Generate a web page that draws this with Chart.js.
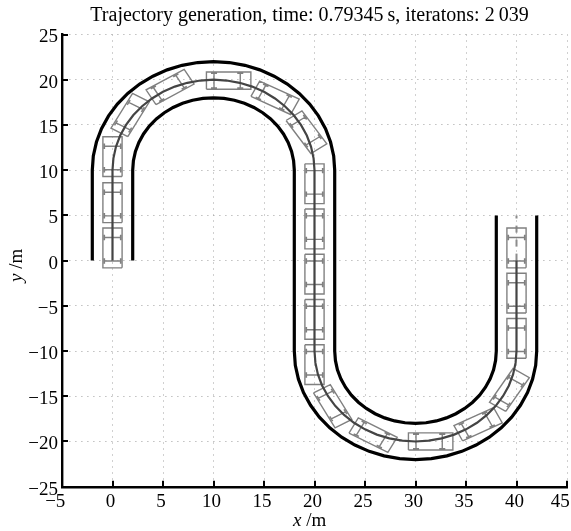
<!DOCTYPE html>
<html>
<head>
<meta charset="utf-8">
<title>Trajectory generation</title>
<script src="https://cdn.jsdelivr.net/npm/chart.js@4"></script>
<style>
  html, body { margin: 0; padding: 0; background: #fff; }
  canvas { display: block; }
</style>
</head>
<body>
<canvas id="chartTrayectoria" width="571" height="531"></canvas>
<script>
const xTicks = [-5, 0, 5, 10, 15, 20, 25, 30, 35, 40, 45];
const yTicks = [-25, -20, -15, -10, -5, 0, 5, 10, 15, 20, 25];

// road edge running outside on the first bend, inside on the second
const edgeA = [
  [-2, 0], [-2, 10], [-1.9, 11.57], [-1.59, 13.11], [-1.09, 14.59], [-0.39, 16], [0.48, 17.31], [1.51, 18.49],
  [2.69, 19.52], [4, 20.39], [5.41, 21.09], [6.89, 21.59], [8.43, 21.9], [10, 22], [11.57, 21.9], [13.11, 21.59],
  [14.59, 21.09], [16, 20.39], [17.31, 19.52], [18.49, 18.49], [19.52, 17.31], [20.39, 16], [21.09, 14.59],
  [21.59, 13.11], [21.9, 11.57], [22, 10], [22, -10], [22.07, -11.04], [22.27, -12.07], [22.61, -13.06], [23.07, -14],
  [23.65, -14.87], [24.34, -15.66], [25.13, -16.35], [26, -16.93], [26.94, -17.39], [27.93, -17.73], [28.96, -17.93],
  [30, -18], [31.04, -17.93], [32.07, -17.73], [33.06, -17.39], [34, -16.93], [34.87, -16.35], [35.66, -15.66],
  [36.35, -14.87], [36.93, -14], [37.39, -13.06], [37.73, -12.07], [37.93, -11.04], [38, -10], [38, 5],
];
const edgeB = [
  [2, 0], [2, 10], [2.07, 11.04], [2.27, 12.07], [2.61, 13.06], [3.07, 14], [3.65, 14.87], [4.34, 15.66], [5.13, 16.35],
  [6, 16.93], [6.94, 17.39], [7.93, 17.73], [8.96, 17.93], [10, 18], [11.04, 17.93], [12.07, 17.73], [13.06, 17.39],
  [14, 16.93], [14.87, 16.35], [15.66, 15.66], [16.35, 14.87], [16.93, 14], [17.39, 13.06], [17.73, 12.07],
  [17.93, 11.04], [18, 10], [18, -10], [18.1, -11.57], [18.41, -13.11], [18.91, -14.59], [19.61, -16], [20.48, -17.31],
  [21.51, -18.49], [22.69, -19.52], [24, -20.39], [25.41, -21.09], [26.89, -21.59], [28.43, -21.9], [30, -22],
  [31.57, -21.9], [33.11, -21.59], [34.59, -21.09], [36, -20.39], [37.31, -19.52], [38.49, -18.49], [39.52, -17.31],
  [40.39, -16], [41.09, -14.59], [41.59, -13.11], [41.9, -11.57], [42, -10], [42, 5],
];
const trajectory = [
  [0, 0], [0, 10], [0.09, 11.31], [0.34, 12.59], [0.76, 13.83], [1.34, 15], [2.07, 16.09], [2.93, 17.07], [3.91, 17.93],
  [5, 18.66], [6.17, 19.24], [7.41, 19.66], [8.69, 19.91], [10, 20], [11.31, 19.91], [12.59, 19.66], [13.83, 19.24],
  [15, 18.66], [16.09, 17.93], [17.07, 17.07], [17.93, 16.09], [18.66, 15], [19.24, 13.83], [19.66, 12.59],
  [19.91, 11.31], [20, 10], [20, -10], [20.09, -11.31], [20.34, -12.59], [20.76, -13.83], [21.34, -15], [22.07, -16.09],
  [22.93, -17.07], [23.91, -17.93], [25, -18.66], [26.17, -19.24], [27.41, -19.66], [28.69, -19.91], [30, -20],
  [31.31, -19.91], [32.59, -19.66], [33.83, -19.24], [35, -18.66], [36.09, -17.93], [37.07, -17.07], [37.93, -16.09],
  [38.66, -15], [39.24, -13.83], [39.66, -12.59], [39.91, -11.31], [40, -10], [40, 0],
];
// rest of the reference path, still ahead of the last vehicle
const referenceTail = [[40, 0], [40, 5]];

// vehicle poses: centre x, centre y, heading in degrees
const carX = [0, 0, 0, 1.75, 5.7, 11.5, 16.1, 19.2, 20, 20, 20, 20, 20, 21.8, 25.8, 31.5, 36.2, 39.3, 40, 40, 40];
const carY = [1.4, 6.4, 11.5, 16.1, 19.2, 19.9, 18, 14.2, 8.5, 3.5, -1.5, -6.5, -11.5, -16.1, -19.3, -20, -18.1, -14.3, -8.6, -3.6, 1.4];
const carHeading = [90, 90, 90, 61, 31, 0, -27, -56, -90, -90, -90, -90, -90, -61, -29, 0, 27, 58, 90, 90, 90];

function toPoints(list) {
  return list.map(([x, y]) => ({ x, y }));
}

// outline, two axles and four wheels of every vehicle, gaps split the pieces
function carOutlines() {
  const halfLen = 2.2, halfWid = 0.95, front = 1.15, rear = -1.45, axle = 0.8, wheel = 0.3;
  const out = [];
  carX.forEach((cx, i) => {
    const a = carHeading[i] * Math.PI / 180;
    const c = Math.cos(a), s = Math.sin(a);
    const at = (l, w) => ({ x: cx + l * c - w * s, y: carY[i] + l * s + w * c });
    const gap = { x: cx, y: null };
    out.push(at(-halfLen, -halfWid), at(halfLen, -halfWid), at(halfLen, halfWid), at(-halfLen, halfWid), at(-halfLen, -halfWid), gap);
    [front, rear].forEach((l) => {
      out.push(at(l, -axle), at(l, axle), gap);
      out.push(at(l - wheel, -axle), at(l + wheel, -axle), gap);
      out.push(at(l - wheel, axle), at(l + wheel, axle), gap);
    });
  });
  return out;
}

const SERIF = '"Liberation Serif", "Times New Roman", serif';

const marcasInternas = {
  id: 'marcasInternas',
  afterDatasetsDraw(chart) {
    const { ctx, scales: { x, y }, chartArea } = chart;
    ctx.save();
    ctx.strokeStyle = '#000';
    ctx.lineWidth = 2;
    xTicks.forEach((v) => {
      const px = Math.round(x.getPixelForValue(v));
      ctx.beginPath();
      ctx.moveTo(px, chartArea.bottom);
      ctx.lineTo(px, chartArea.bottom - 6);
      ctx.stroke();
    });
    yTicks.forEach((v) => {
      const py = Math.round(y.getPixelForValue(v));
      ctx.beginPath();
      ctx.moveTo(chartArea.left, py);
      ctx.lineTo(chartArea.left + 6, py);
      ctx.stroke();
    });
    ctx.restore();
  },
};

const titulosEjes = {
  id: 'titulosEjes',
  afterDraw(chart) {
    const { ctx } = chart;
    const write = (name, unit) => {
      ctx.font = 'italic 19px ' + SERIF;
      ctx.fillText(name, 0, 0);
      const w = ctx.measureText(name).width;
      ctx.font = '19px ' + SERIF;
      ctx.fillText(unit, w, 0);
    };
    ctx.save();
    ctx.fillStyle = '#000';
    ctx.textBaseline = 'alphabetic';
    ctx.translate(293, 526);
    write('x', ' /m');
    ctx.restore();
    ctx.save();
    ctx.fillStyle = '#000';
    ctx.textBaseline = 'alphabetic';
    ctx.translate(22, 282);
    ctx.rotate(-Math.PI / 2);
    write('y', ' /m');
    ctx.restore();
  },
};

const gridStyle = {
  color: '#a0a0a0',
  lineWidth: 1,
  drawTicks: false,
};
const axisBorder = { color: '#000', width: 2.4, dash: [1, 5] };

new Chart(document.getElementById('chartTrayectoria'), {
  type: 'line',
  data: {
    datasets: [
      { label: 'trajectory', data: toPoints(trajectory), borderColor: '#444', borderWidth: 2.2 },
      { label: 'vehicles', data: carOutlines(), borderColor: '#808080', borderWidth: 1.4, spanGaps: false },
      { label: 'reference', data: toPoints(referenceTail), borderColor: '#8c8c8c', borderWidth: 2, borderDash: [7, 7] },
      { label: 'edge A', data: toPoints(edgeA), borderColor: '#000', borderWidth: 3.2 },
      { label: 'edge B', data: toPoints(edgeB), borderColor: '#000', borderWidth: 3.2 },
    ],
  },
  options: {
    responsive: false,
    animation: false,
    parsing: false,
    normalized: false,
    elements: { point: { radius: 0 }, line: { tension: 0 } },
    layout: { padding: { left: 0, right: 4, top: 0, bottom: 0 } },
    scales: {
      x: {
        type: 'linear',
        min: -5,
        max: 45,
        afterFit: (s) => { s.height = 44.3; s.paddingLeft = 0; s.paddingRight = 0; },
        grid: gridStyle,
        border: axisBorder,
        ticks: {
          stepSize: 5,
          autoSkip: false,
          maxRotation: 0,
          padding: 4,
          labelOffset: -2,
          color: '#000',
          font: { family: SERIF, size: 19 },
          // the two end labels sit further left of their ticks
          callback: (v) => String(v).replace('-', '\u2212') + (v === 45 || v === -5 ? '\u2002' : ''),
        },
      },
      y: {
        type: 'linear',
        min: -25,
        max: 25,
        afterFit: (s) => { s.width = 62; s.paddingTop = 0; s.paddingBottom = 0; },
        grid: gridStyle,
        border: axisBorder,
        ticks: {
          stepSize: 5,
          autoSkip: false,
          padding: 4,
          labelOffset: 3,
          color: '#000',
          font: { family: SERIF, size: 19 },
          callback: (v) => String(v).replace('-', '\u2212'),
        },
      },
    },
    plugins: {
      legend: { display: false },
      tooltip: { enabled: false },
      title: {
        display: true,
        fullSize: false,
        text: 'Trajectory generation, time: 0.79345\u2009s, iteratons: 2\u2009039\u00a0\u00a0',
        color: '#000',
        font: { family: SERIF, size: 20, weight: 'normal' },
        padding: { top: 4, bottom: 6.5 },
      },
    },
  },
  plugins: [marcasInternas, titulosEjes],
});
</script>
</body>
</html>
